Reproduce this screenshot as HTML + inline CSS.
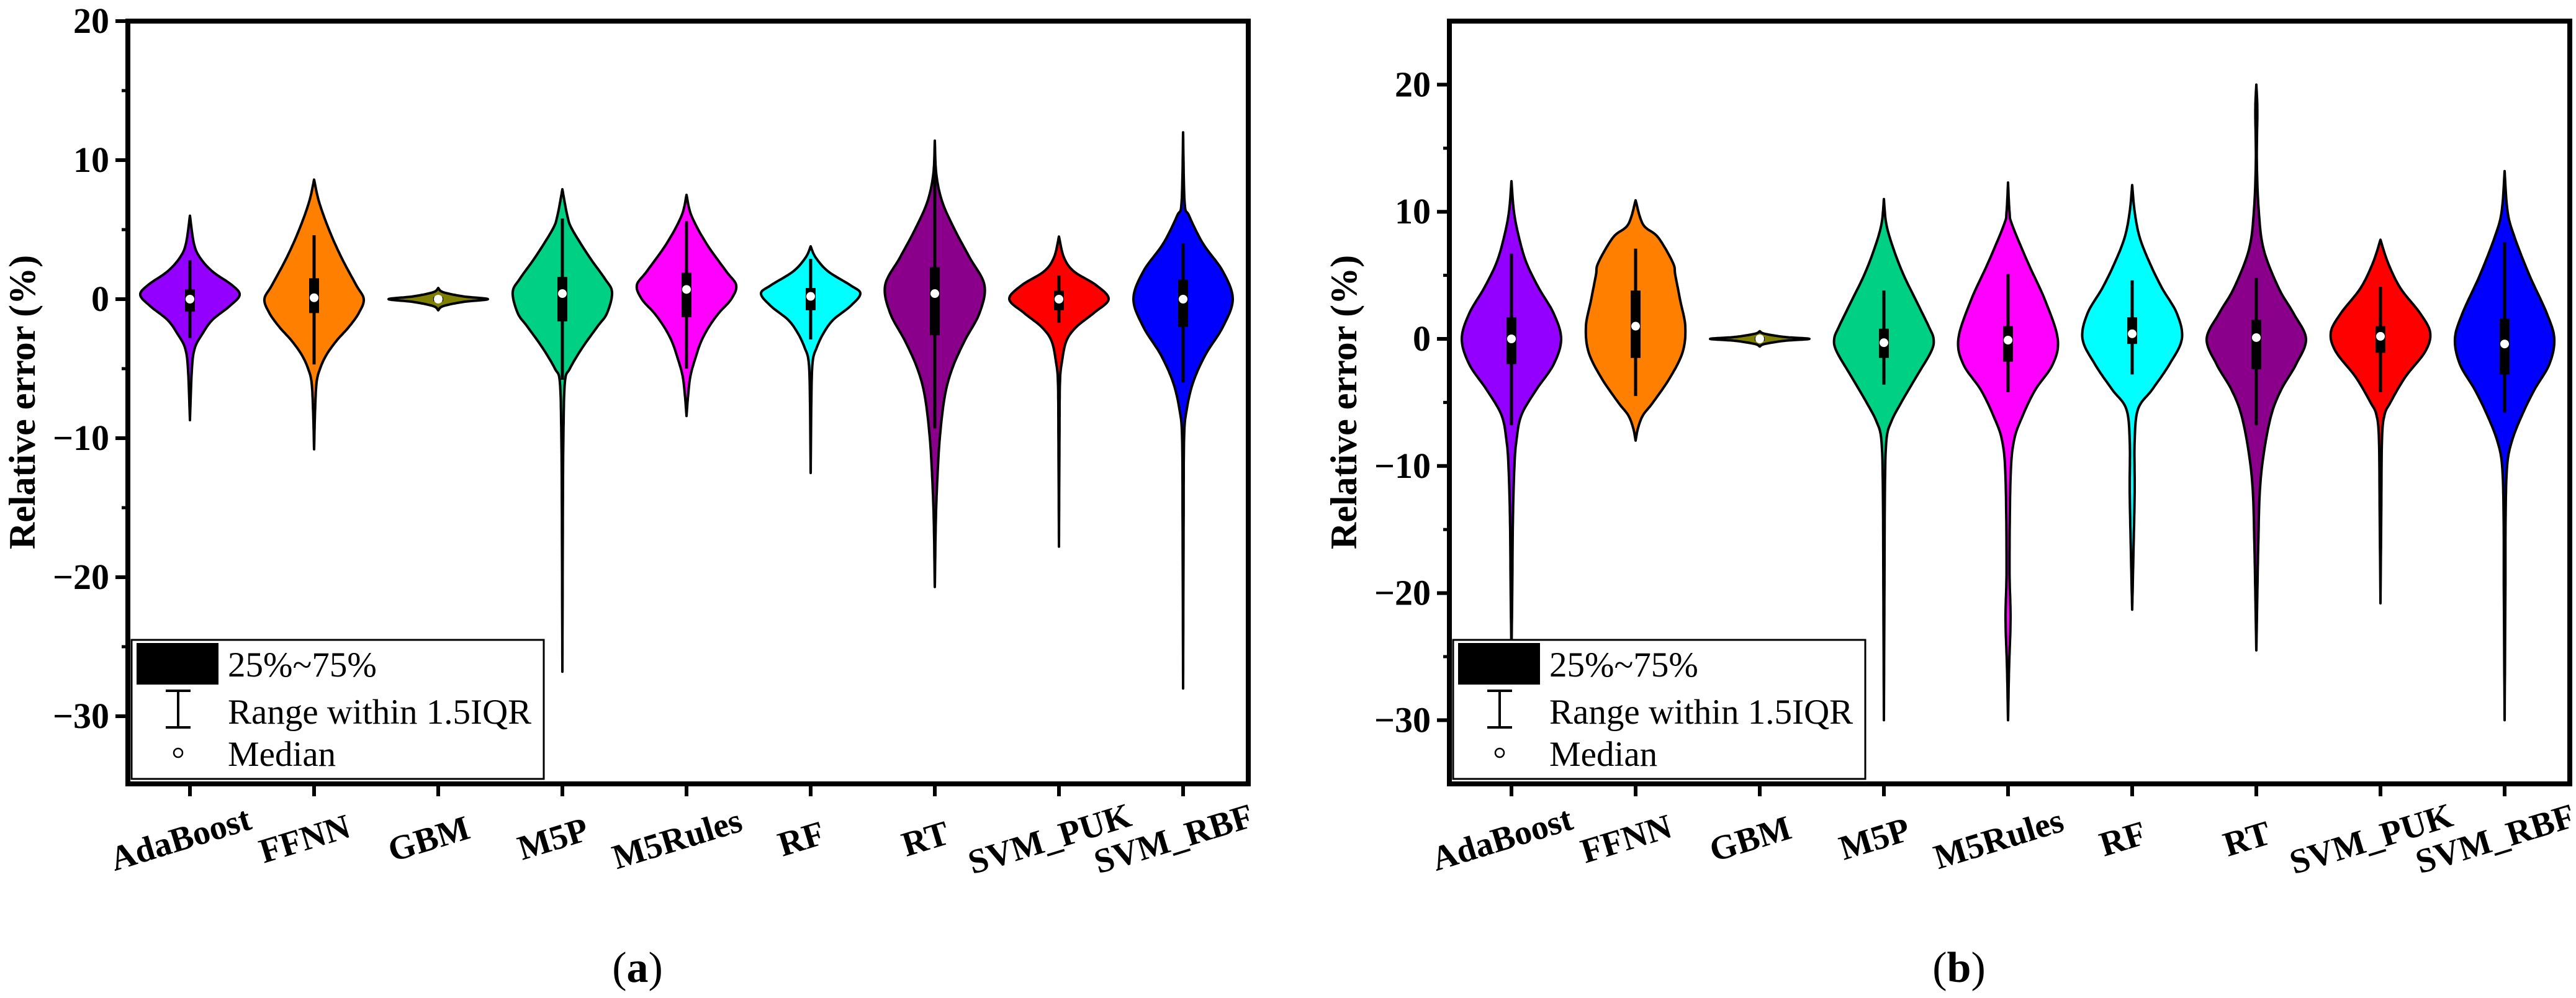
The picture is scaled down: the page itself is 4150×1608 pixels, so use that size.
<!DOCTYPE html>
<html><head><meta charset="utf-8"><style>
html,body{margin:0;padding:0;background:#fff;}
svg{display:block;}
svg text{font-family:"Liberation Serif","DejaVu Serif",serif;}
</style></head><body>
<svg id="chart" width="4150" height="1608" viewBox="0 0 4150 1608" xmlns="http://www.w3.org/2000/svg" font-family="Liberation Serif, serif">
<rect width="4150" height="1608" fill="#fff"/>
</svg>
<script>
const categories=["AdaBoost","FFNN","GBM","M5P","M5Rules","RF","RT","SVM_PUK","SVM_RBF"];
const fills=["#9400FF","#FF8000","#808000","#00D084","#FF00FF","#00FFFF","#8B008B","#FF0000","#0000FF"];
// panel (a)
const medA=[0,0.1,0,0.4,0.7,0.2,0.4,0,0];
const q1A=[-0.9,-1,-0.15,-1.6,-1.3,-0.8,-2.6,-0.8,-2];
const q3A=[0.7,1.5,0.15,1.6,1.9,0.8,2.3,0.6,1.4];
const loA=[-2.8,-4.7,-0.3,-5.8,-5,-2.9,-9.3,-1.7,-6];
const hiA=[2.8,4.6,0.3,5.8,5.6,2.9,10,1.7,4];
const profA=[
 [[6,0],[4,0.08],[3,0.2],[2,0.45],[1,0.85],[0.3,1],[-0.5,0.8],[-1.5,0.45],[-2.5,0.25],[-3.5,0.1],[-5,0.04],[-8.7,0]],
 [[8.6,0],[7,0.1],[5,0.3],[3,0.55],[1,0.85],[0,1],[-1,0.9],[-2,0.7],[-3,0.45],[-4,0.25],[-5,0.12],[-6,0.05],[-8,0.02],[-10.8,0]],
 [[0.8,0],[0.5,0.1],[0.2,0.5],[0,1],[-0.2,0.5],[-0.5,0.1],[-0.8,0]],
 [[7.9,0],[6,0.1],[5,0.2],[3,0.55],[1.5,0.85],[0.5,1],[-1,0.9],[-2,0.7],[-3.5,0.4],[-5,0.15],[-6,0.05],[-10,0.02],[-15,0.01],[-26.8,0]],
 [[7.5,0],[6,0.1],[4,0.4],[2,0.8],[1,1],[0,0.9],[-1,0.65],[-2,0.45],[-3,0.3],[-4,0.2],[-5.5,0.08],[-7,0.03],[-8.4,0]],
 [[3.8,0],[3,0.1],[2,0.35],[1,0.8],[0.4,1],[-0.5,0.8],[-1.5,0.45],[-2.5,0.25],[-3.5,0.12],[-4.5,0.04],[-7,0.015],[-12.5,0]],
 [[11.4,0],[9,0.03],[7,0.15],[5,0.4],[3,0.7],[1,1],[-1,0.9],[-3,0.6],[-5,0.35],[-7,0.2],[-10,0.1],[-13,0.05],[-16,0.02],[-20.7,0]],
 [[4.5,0],[3,0.1],[2,0.3],[1,0.75],[0,1],[-1,0.7],[-2,0.35],[-3,0.15],[-4.5,0.06],[-6,0.02],[-10,0.01],[-17.8,0]],
 [[12,0],[7,0.03],[6,0.12],[4,0.4],[2,0.8],[0,1],[-2,0.8],[-4,0.45],[-6,0.2],[-8,0.07],[-10,0.02],[-16,0.01],[-28,0]]
];
// panel (b)
const medB=[0,1,0,-0.3,-0.1,0.4,0.1,0.2,-0.4];
const q1B=[-2,-1.5,-0.15,-1.5,-1.8,-0.4,-2.4,-1.1,-2.8];
const q3B=[1.7,3.8,0.15,0.8,1,1.7,1.5,1,1.6];
const loB=[-6.8,-4.5,-0.3,-3.6,-4.2,-2.8,-6.8,-4.2,-5.8];
const hiB=[6.7,7.1,0.3,3.8,5.1,4.6,4.8,4.1,7.6];
const profB=[
 [[12.4,0],[10,0.05],[8,0.15],[6,0.3],[4,0.55],[2,0.85],[0,1],[-2,0.85],[-4,0.5],[-6,0.2],[-8,0.1],[-10,0.06],[-14,0.03],[-20,0.015],[-25,0]],
 [[10.9,0],[9,0.15],[8,0.45],[6,0.75],[5,0.8],[3,0.9],[1,1],[-1,0.95],[-3,0.7],[-5,0.35],[-6,0.15],[-7,0.05],[-8,0]],
 [[0.6,0],[0.4,0.1],[0.15,0.5],[0,1],[-0.15,0.5],[-0.4,0.1],[-0.6,0]],
 [[11,0],[9,0.05],[7,0.2],[5,0.4],[3,0.65],[1,0.9],[0,1],[-1,0.95],[-3,0.65],[-5,0.35],[-6.5,0.15],[-8,0.05],[-12,0.02],[-20,0.01],[-30,0]],
 [[12.3,0],[10,0.03],[9,0.08],[6,0.4],[3,0.75],[0,1],[-2,0.9],[-4,0.55],[-6,0.3],[-8,0.12],[-11,0.05],[-18,0.03],[-22,0.05],[-26,0.02],[-30,0]],
 [[12.1,0],[10,0.05],[8,0.15],[6,0.35],[4,0.6],[2,0.9],[0,1],[-2,0.75],[-4,0.4],[-5.5,0.12],[-8,0.05],[-12,0.05],[-16,0.03],[-21.3,0]],
 [[20,0],[18,0.02],[14,0.01],[10,0.05],[7,0.15],[4,0.45],[2,0.75],[0,1],[-2,0.8],[-4,0.5],[-6,0.3],[-9,0.15],[-12,0.07],[-16,0.04],[-20,0.02],[-24.5,0]],
 [[7.8,0],[6,0.15],[4,0.4],[2,0.8],[0.5,1],[-1,0.9],[-3,0.5],[-5,0.2],[-6,0.08],[-8,0.03],[-14,0.015],[-20.8,0]],
 [[13.2,0],[10,0.06],[8,0.2],[5,0.5],[2,0.85],[0,1],[-2,0.9],[-4,0.6],[-6,0.35],[-8,0.15],[-10,0.05],[-14,0.02],[-20,0.015],[-30,0]]
];
const ticksA=[20,10,0,-10,-20,-30];
const ticksB=[20,10,0,-10,-20,-30];
const minorA=[15,5,-5,-15,-25];
const minorB=[15,5,-5,-15,-25];

const NS="http://www.w3.org/2000/svg";
const FONT="Liberation Serif, DejaVu Serif, serif";
const svg=document.getElementById("chart");
function mk(tag,attrs,parent,text){const e=document.createElementNS(NS,tag);for(const k in attrs)e.setAttribute(k,attrs[k]);if(tag==="text")e.setAttribute("font-family",FONT);if(text!==undefined)e.textContent=text;(parent||svg).appendChild(e);return e;}

function cr(p0,p1,p2,p3,t){const t2=t*t,t3=t2*t;return 0.5*((2*p1)+(-p0+p2)*t+(2*p0-5*p1+4*p2-p3)*t2+(-p0+3*p1-3*p2+p3)*t3);}

function panel(id,left,vmax,ppu,med,q1,q3,lo,hi,prof,ticks,minor,label){
  const top=34,bottom=1263,right=left+1805;
  const y=v=>top+(vmax-v)*ppu;
  const x=i=>left+100+i*200;
  const g=mk("g",{});
  
  
  const plot=mk("g",{},g);
  
  
  categories.forEach((c,i)=>{
    const pr=prof[i];const pts=[];
    for(let k=0;k<pr.length-1;k++){
      const a=pr[Math.max(0,k-1)],b=pr[k],cc=pr[k+1],d=pr[Math.min(pr.length-1,k+2)];
      for(let s=0;s<12;s++){const t=s/12;pts.push([cr(a[0],b[0],cc[0],d[0],t),Math.max(0,cr(a[1],b[1],cc[1],d[1],t))]);}
    }
    pts.push(pr[pr.length-1]);
    const cx=x(i);let dR="",dL="";
    pts.forEach((p,j)=>{dR+=(j?"L":"M")+(cx+p[1]*80).toFixed(1)+","+y(p[0]).toFixed(1);});
    for(let j=pts.length-1;j>=0;j--){const p=pts[j];dL+="L"+(cx-p[1]*80).toFixed(1)+","+y(p[0]).toFixed(1);}
    const vg=mk("g",{},plot);
    
    
    const path=mk("path",{d:dR+dL+"Z",fill:fills[i],stroke:"#000","stroke-width":4,"stroke-linejoin":"round"},vg);
    
    
    const wl=mk("line",{x1:cx,x2:cx,y1:y(hi[i]),y2:y(lo[i]),stroke:"#000","stroke-width":5},vg);
    
    
    const bx=mk("rect",{x:cx-8,y:y(q3[i]),width:16,height:Math.max(2,y(q1[i])-y(q3[i])),fill:"#000"},vg);
    
    
    const md=mk("circle",{cx:cx,cy:y(med[i]),r:7,fill:"#fff"},vg);
    
    
    const tk=mk("line",{x1:cx,x2:cx,y1:bottom,y2:bottom+20,stroke:"#000","stroke-width":6},g);
    
    
    const tl=mk("text",{x:cx-15,y:1352,"text-anchor":"middle","dominant-baseline":"central","font-size":56,"font-weight":"bold",transform:`rotate(-17 ${cx-15} 1352)`},g,c);
    
    
  });
  ticks.forEach(v=>{
    const t=mk("line",{x1:left-20,x2:left,y1:y(v),y2:y(v),stroke:"#000","stroke-width":6},g);
    
    
    const tl=mk("text",{x:left-30,y:y(v)+19,"text-anchor":"end","font-size":58,"font-weight":"bold"},g,v<0?"\u2212"+(-v):String(v));
    
    
  });
  minor.forEach(v=>{
    const t=mk("line",{x1:left-10,x2:left,y1:y(v),y2:y(v),stroke:"#000","stroke-width":5},g);
    
    
  });
  const fr=mk("rect",{x:left,y:top,width:right-left,height:bottom-top,fill:"none",stroke:"#000","stroke-width":8},g);
  
  
  const yt=mk("text",{x:0,y:0,"text-anchor":"middle","font-size":60,"font-weight":"bold",transform:`translate(${left-150},648) rotate(-90)`},g,"Relative error (%)");
  
  
  const lg=mk("g",{},g);
  
  
  const lx=left+6;
  mk("rect",{x:lx,y:1031,width:664,height:224,fill:"#fff",stroke:"#000","stroke-width":3},lg);
  const e1=mk("rect",{x:lx+8,y:1036,width:132,height:67,fill:"#000"},lg);
  
  
  const t1=mk("text",{x:lx+155,y:1090,"font-size":57},lg,"25%~75%");
  
  
  const ix=lx+75;
  mk("path",{d:`M${ix-20},1113H${ix+20}M${ix},1113V1172M${ix-20},1172H${ix+20}`,stroke:"#000","stroke-width":4,fill:"none"},lg);
  const t2=mk("text",{x:lx+155,y:1166,"font-size":57},lg,"Range within 1.5IQR");
  
  
  mk("circle",{cx:ix,cy:1213,r:7,fill:"#fff",stroke:"#000","stroke-width":2.5},lg);
  const t3=mk("text",{x:lx+155,y:1234,"font-size":57},lg,"Median");
  
  
  const cap=mk("text",{x:left+821,y:1582,"text-anchor":"middle","font-size":70},g);
  
  
  mk("tspan",{},cap,"(");mk("tspan",{"font-weight":"bold"},cap,label);mk("tspan",{},cap,")");
}
panel("a",206,20,22.4,medA,q1A,q3A,loA,hiA,profA,ticksA,minorA,"a");
panel("b",2335,25,20.48,medB,q1B,q3B,loB,hiB,profB,ticksB,minorB,"b");
</script>
</body></html>
